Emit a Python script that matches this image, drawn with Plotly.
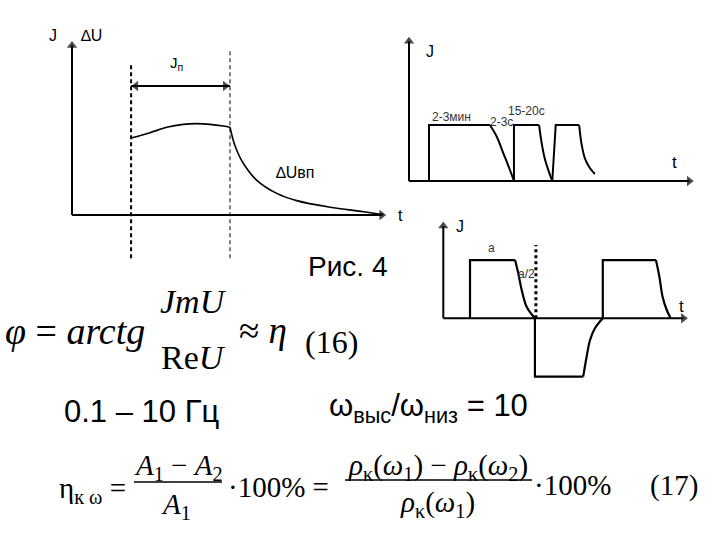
import plotly.graph_objects as go

W, H = 720, 540

# ---------------- data (diagram units) ----------------
# Diagram 1: J, dU vs t
d1_plateau_t = [18.7, 24.7, 30.0, 35.2, 39.5, 43.7, 47.9, 50.0]
d1_plateau_v = [44.5, 47.6, 50.7, 52.4, 52.8, 52.4, 51.4, 50.7]
d1_decay_t = [50.0, 51.0, 52.1, 54.2, 58.4, 64.8, 71.1, 81.6, 92.2, 98.5]
d1_decay_v = [50.7, 43.4, 37.6, 29.9, 20.2, 12.5, 8.3, 4.5, 1.9, 0.2]
d1_marks_t = [18.7, 50.0]          # dashed vertical markers
d1_mark_top = [86.7, 95.4]
d1_mark_bottom = -25.0
d1_span_level = 74.6               # level of the double arrow "Jп"
d1_span_t = [20.2, 48.5]           # arrow-head centres of the double arrow

# Diagram 2: pulse train J(t)
d2_rect_t = [7.0, 7.0, 28.3, None, 36.7, 36.7, 45.5, None, 50.1, 51.3, 59.5]
d2_rect_v = [0, 39.2, 39.2, None, 0, 39.2, 39.2, None, 0, 39.2, 39.2]
d2_fall1_t = [28.3, 30.7, 33.0, 35.3, 36.7]
d2_fall1_v = [39.2, 31.0, 19.4, 7.7, 0]
d2_fall2_t = [45.5, 46.4, 47.6, 49.1, 50.1]
d2_fall2_v = [39.2, 26.4, 14.7, 5.4, 0]
d2_fall3_t = [59.5, 60.3, 61.5, 63.3, 65.0]
d2_fall3_v = [39.2, 26.4, 15.9, 8.9, 4.9]

# Diagram 3: bipolar pulses
d3_rect_t = [10.9, 10.9, 29.3, None, 37.4, 37.4, 57.1, None, 65.1, 65.1, 86.8]
d3_rect_v = [0, 61.8, 61.8, None, 0, -61.9, -61.9, None, 0, 61.8, 61.8]
d3_fall1_t = [29.3, 30.6, 32.0, 34.0, 37.4]
d3_fall1_v = [61.8, 47.7, 30.0, 12.3, 0]
d3_rec_t = [57.1, 58.5, 59.9, 61.9, 65.1]
d3_rec_v = [-61.9, -40.7, -23.0, -10.6, 0]
d3_fall3_t = [86.8, 88.2, 89.5, 91.2, 92.8]
d3_fall3_v = [61.8, 44.1, 22.9, 8.8, 0]
d3_mark_t = 37.8
d3_mark_top = 77.7

# axis extents (diagram units)
axis_end = 98

# ---------------- layout helpers ----------------
def dom_x(r0, r1, px0, ppu):
    return [(px0 + r0 * ppu) / W, (px0 + r1 * ppu) / W]

def dom_y(r0, r1, py0, ppu):
    return [1 - (py0 - r0 * ppu) / H, 1 - (py0 - r1 * ppu) / H]

def P(px, py):
    return px / W, 1 - py / H

axes_cfg = {
    1: dict(xr=[-8, 104], yr=[-27, 106], px0=72, ppx=3.16, py0=215, ppy=1.73),
    2: dict(xr=[-5, 103], yr=[-8, 106], px0=409, ppx=2.86, py0=181, ppy=1.427),
    3: dict(xr=[-5, 103], yr=[-70, 108], px0=443.3, ppx=2.45, py0=318.3, ppy=0.943),
}

fig = go.Figure()

def refs(k):
    return ("x" if k == 1 else f"x{k}"), ("y" if k == 1 else f"y{k}")

def line(x, y, k, width=2, dash=None, shape="linear"):
    xa, ya = refs(k)
    fig.add_trace(go.Scatter(
        x=x, y=y, mode="lines",
        line=dict(color="black", width=width, dash=dash, shape=shape),
        xaxis=xa, yaxis=ya, hoverinfo="skip", showlegend=False, connectgaps=False))

def arrow_line(x, y, k, symbols, width=2, size=10):
    xa, ya = refs(k)
    fig.add_trace(go.Scatter(
        x=x, y=y, mode="lines+markers",
        line=dict(color="black", width=width),
        marker=dict(symbol=symbols, size=[0 if s == "circle" else size for s in symbols],
                    color="black", line=dict(width=0)),
        xaxis=xa, yaxis=ya, hoverinfo="skip", showlegend=False, cliponaxis=False))

# axes with arrowheads
for k in (1, 2, 3):
    arrow_line([0, 0], [0, axis_end], k, ["circle", "triangle-up"], size=9)
    arrow_line([0, axis_end], [0, 0], k, ["circle", "triangle-right"], size=9)

# diagram 1
line(d1_plateau_t, d1_plateau_v, 1, 1.6, shape="spline")
line(d1_decay_t, d1_decay_v, 1, 1.6, shape="spline")
line([d1_marks_t[0]] * 2, [d1_mark_bottom, d1_mark_top[0]], 1, 2, dash="4px,3px")
line([d1_marks_t[1]] * 2, [d1_mark_bottom, d1_mark_top[1]], 1, 1, dash="4px,3px")
line(d1_marks_t, [d1_span_level] * 2, 1, 2)
arrow_line(d1_span_t, [d1_span_level] * 2, 1, ["triangle-left", "triangle-right"], width=2, size=9)

# diagram 2
line(d2_rect_t, d2_rect_v, 2, 2)
line(d2_fall1_t, d2_fall1_v, 2, 2, shape="spline")
line(d2_fall2_t, d2_fall2_v, 2, 2, shape="spline")
line(d2_fall3_t, d2_fall3_v, 2, 2, shape="spline")

# diagram 3
line(d3_rect_t, d3_rect_v, 3, 2.2)
line(d3_fall1_t, d3_fall1_v, 3, 2.2, shape="spline")
line(d3_rec_t, d3_rec_v, 3, 2.2, shape="spline")
line(d3_fall3_t, d3_fall3_v, 3, 2.2, shape="spline")
line([d3_mark_t] * 2, [0, d3_mark_top], 3, 3, dash="dot")

layout = dict(width=W, height=H, margin=dict(l=0, r=0, t=0, b=0),
              paper_bgcolor="white", plot_bgcolor="rgba(0,0,0,0)",
              showlegend=False)
for k, c in axes_cfg.items():
    sx = "" if k == 1 else str(k)
    layout[f"xaxis{sx}"] = dict(range=c["xr"], domain=dom_x(*c["xr"], c["px0"], c["ppx"]),
                                visible=False, fixedrange=True, anchor=f"y{sx}")
    layout[f"yaxis{sx}"] = dict(range=c["yr"], domain=dom_y(*c["yr"], c["py0"], c["ppy"]),
                                visible=False, fixedrange=True, anchor=f"x{sx}")
fig.update_layout(**layout)

ann = []
SANS = "Arial"
SERIF = "Times New Roman"

def label(k, x, y, text, size=16, color="black"):
    xa, ya = refs(k)
    ann.append(dict(x=x, y=y, xref=xa, yref=ya, text=text, showarrow=False,
                    font=dict(size=size, color=color, family=SANS)))

label(1, -6, 104, "J")
label(1, 6.3, 104, "∆U")
label(1, 33.1, 87.7, "J<sub>п</sub>", size=15)
label(1, 70.6, 24.5, "∆Uвп")
label(1, 104, 0, "t")
label(2, 7.3, 90.6, "J")
label(2, 92.7, 12.8, "t", size=17)
label(2, 14.9, 44.6, "2-3мин", size=12, color="#333")
label(2, 32.2, 41.6, "2-3с", size=12, color="#333")
label(2, 41.2, 49.3, "15-20с", size=12, color="#333")
label(3, 6.8, 97.1, "J")
label(3, 97.3, 12.3, "t", size=17)
label(3, 19.5, 74.2, "a", size=12, color="#333")
label(3, 33.8, 46.7, "a/2", size=12, color="#333")

def ptext(px, py, text, size, family=SERIF, xanchor="center"):
    x, y = P(px, py)
    ann.append(dict(x=x, y=y, xref="paper", yref="paper", text=text, showarrow=False,
                    xanchor=xanchor, yanchor="middle",
                    font=dict(size=size, color="black", family=family)))

ptext(347, 266, "Рис. 4", 28, SANS)

# formula (16)
ptext(75, 331, "<i>φ</i> = <i>arctg</i>", 38)
ptext(193, 301, "<i>JmU</i>", 34)
ptext(193, 357, "Re<i>U</i>", 34)
ptext(263, 330, "≈ <i>η</i>", 37)
ptext(331, 342, "(16)", 32)

# middle texts
ptext(141, 411, "0.1 – 10 Гц", 31, SANS)
ptext(428, 408, "ω<sub>выс</sub>/ω<sub>низ</sub> = 10", 31, SANS)

# formula (17)
ptext(57, 490, "η<sub>к ω</sub> =", 29, xanchor="left")
ptext(178, 467, "<i>A</i><sub>1</sub> − <i>A</i><sub>2</sub>", 29)
ptext(176, 506, "<i>A</i><sub>1</sub>", 29)
ptext(226, 487, "·100% =", 29, xanchor="left")
ptext(438, 467, "<i>ρ</i><sub>κ</sub>(<i>ω</i><sub>1</sub>) − <i>ρ</i><sub>κ</sub>(<i>ω</i><sub>2</sub>)", 29)
ptext(438, 504, "<i>ρ</i><sub>κ</sub>(<i>ω</i><sub>1</sub>)", 29)
ptext(532, 485, "·100%", 29, xanchor="left")
ptext(674, 485, "(17)", 29)

shapes = [
    dict(type="line", xref="paper", yref="paper",
         x0=P(134, 0)[0], x1=P(222, 0)[0], y0=P(0, 482)[1], y1=P(0, 482)[1],
         line=dict(color="black", width=1.3)),
    dict(type="line", xref="paper", yref="paper",
         x0=P(345, 0)[0], x1=P(532, 0)[0], y0=P(0, 480)[1], y1=P(0, 480)[1],
         line=dict(color="black", width=1.3)),
]

fig.update_layout(annotations=ann, shapes=shapes)
fig.write_html("out.html", config={"displayModeBar": False},
               post_script="document.body.style.margin='0';")
